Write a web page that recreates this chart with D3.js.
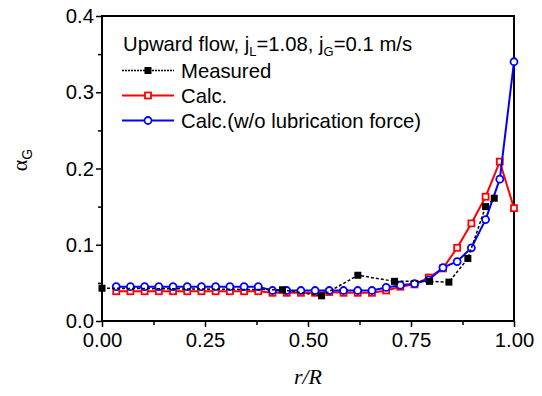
<!DOCTYPE html>
<html>
<head>
<meta charset="utf-8">
<script src="https://cdn.jsdelivr.net/npm/d3@7"></script>
<style>
  body { margin: 0; background: #fff; }
  svg { display: block; font-family: "Liberation Sans", Arial, sans-serif; }
</style>
</head>
<body>
<svg id="chart" width="542" height="396"></svg>
<script>
// Data
const gridR = d3.range(29).map(i => (i + 1) / 29);

const calcAlpha = [
  0.039, 0.039, 0.039, 0.039, 0.039, 0.039, 0.039, 0.039, 0.039, 0.039,
  0.039, 0.037, 0.037, 0.037, 0.037, 0.038, 0.037, 0.037, 0.037, 0.040,
  0.045, 0.048, 0.057, 0.069, 0.096, 0.128, 0.163, 0.209, 0.148
];

const noLubAlpha = [
  0.045, 0.045, 0.045, 0.045, 0.045, 0.045, 0.045, 0.045, 0.045, 0.045,
  0.045, 0.040, 0.040, 0.040, 0.040, 0.040, 0.040, 0.040, 0.040, 0.044,
  0.047, 0.049, 0.054, 0.070, 0.078, 0.096, 0.133, 0.186, 0.340
];

const measuredR = [0.0, 0.438, 0.533, 0.621, 0.710, 0.795, 0.842, 0.888, 0.931, 0.952];
const measuredAlpha = [0.043, 0.041, 0.033, 0.060, 0.052, 0.052, 0.051, 0.082, 0.150, 0.161];

const xTicks = [0, 0.25, 0.5, 0.75, 1.0];
const xMinor = [0.125, 0.375, 0.625, 0.875];
const yTicks = [0, 0.1, 0.2, 0.3, 0.4];
const yMinor = [0.05, 0.15, 0.25, 0.35];

const svg = d3.select('#chart');
const margin = { top: 16, right: 28, bottom: 75, left: 102 };
const width = 542 - margin.left - margin.right;
const height = 396 - margin.top - margin.bottom;

const g = svg.append('g').attr('transform', `translate(${margin.left},${margin.top})`);

const x = d3.scaleLinear().domain([0, 1]).range([0, width]);
const y = d3.scaleLinear().domain([0, 0.4]).range([height, 0]);

const FS = 20.3;

// frame
g.append('rect')
  .attr('width', width).attr('height', height)
  .attr('fill', 'none').attr('stroke', '#000').attr('stroke-width', 2);

// axes
const styleAxis = sel => {
  sel.select('.domain').remove();
  sel.selectAll('line').attr('stroke', '#000').attr('stroke-width', 1.5);
  sel.selectAll('text').attr('fill', '#000').style('font-size', FS + 'px');
};

g.append('g').attr('transform', `translate(0,${height})`)
  .call(d3.axisBottom(x).tickValues(xTicks).tickFormat(d3.format('.2f')).tickSize(6).tickPadding(6))
  .call(styleAxis);
g.append('g').attr('transform', `translate(0,${height})`)
  .call(d3.axisBottom(x).tickValues(xMinor).tickFormat('').tickSize(4))
  .call(styleAxis);

g.append('g')
  .call(d3.axisLeft(y).tickValues(yTicks).tickFormat(d3.format('.1f')).tickSize(6).tickPadding(2))
  .call(styleAxis);
g.append('g')
  .call(d3.axisLeft(y).tickValues(yMinor).tickFormat('').tickSize(4))
  .call(styleAxis);

// axis titles
svg.append('text')
  .attr('x', margin.left + x(0.5)).attr('y', 384)
  .attr('text-anchor', 'middle')
  .style('font-family', '"Liberation Serif", "Times New Roman", serif')
  .style('font-style', 'italic').style('font-size', '22px')
  .text('r/R');

const yl = svg.append('text')
  .attr('transform', 'translate(27,160) rotate(-90)')
  .attr('text-anchor', 'middle')
  .style('font-size', '22px');
yl.append('tspan').style('font-family', '"Liberation Serif", serif').text('α');
yl.append('tspan').attr('dy', 5).style('font-size', '14px').text('G');

// series
const calcData = gridR.map((r, i) => ({ r, a: calcAlpha[i] }));
const noLubData = gridR.map((r, i) => ({ r, a: noLubAlpha[i] }));
const measData = measuredR.map((r, i) => ({ r, a: measuredAlpha[i] }));

const line = d3.line().x(d => x(d.r)).y(d => y(d.a));

const plot = g.append('g');

plot.append('path').datum(calcData)
  .attr('d', line).attr('fill', 'none').attr('stroke', '#f00').attr('stroke-width', 2);
plot.selectAll('.calc').data(calcData).enter().append('rect')
  .attr('x', d => x(d.r) - 3).attr('y', d => y(d.a) - 3)
  .attr('width', 6).attr('height', 6)
  .attr('fill', '#fff').attr('stroke', '#f00').attr('stroke-width', 1.8);

plot.append('path').datum(noLubData)
  .attr('d', line).attr('fill', 'none').attr('stroke', '#00f').attr('stroke-width', 2);
plot.selectAll('.nolub').data(noLubData).enter().append('circle')
  .attr('cx', d => x(d.r)).attr('cy', d => y(d.a)).attr('r', 3.5)
  .attr('fill', '#fff').attr('stroke', '#00f').attr('stroke-width', 1.8);

plot.append('path').datum(measData)
  .attr('d', line).attr('fill', 'none').attr('stroke', '#000')
  .attr('stroke-width', 1.5).attr('stroke-dasharray', '3,2');
plot.selectAll('.meas').data(measData).enter().append('rect')
  .attr('x', d => x(d.r) - 3.5).attr('y', d => y(d.a) - 3.5)
  .attr('width', 7).attr('height', 7)
  .attr('fill', '#000');

// legend
const legend = svg.append('g');
const head = legend.append('text').attr('x', 123).attr('y', 51).style('font-size', FS + 'px');
head.append('tspan').text('Upward flow, j');
head.append('tspan').attr('dy', 5).style('font-size', '13px').text('L');
head.append('tspan').attr('dy', -5).text('=1.08, j');
head.append('tspan').attr('dy', 5).style('font-size', '13px').text('G');
head.append('tspan').attr('dy', -5).text('=0.1 m/s');

const items = [
  { label: 'Measured', color: '#000', dash: '2,1', marker: 'filled', y: 70.5 },
  { label: 'Calc.', color: '#f00', dash: null, marker: 'square', y: 95.5 },
  { label: 'Calc.(w/o lubrication force)', color: '#00f', dash: null, marker: 'circle', y: 120.5 }
];

items.forEach(it => {
  legend.append('line')
    .attr('x1', 122).attr('x2', 174).attr('y1', it.y).attr('y2', it.y)
    .attr('stroke', it.color).attr('stroke-width', it.dash ? 1.5 : 2)
    .attr('stroke-dasharray', it.dash);
  if (it.marker === 'filled') {
    legend.append('rect').attr('x', 144.5).attr('y', it.y - 3.5).attr('width', 7).attr('height', 7).attr('fill', '#000');
  } else if (it.marker === 'square') {
    legend.append('rect').attr('x', 145).attr('y', it.y - 3).attr('width', 6).attr('height', 6)
      .attr('fill', '#fff').attr('stroke', it.color).attr('stroke-width', 1.8);
  } else {
    legend.append('circle').attr('cx', 148).attr('cy', it.y).attr('r', 3.5)
      .attr('fill', '#fff').attr('stroke', it.color).attr('stroke-width', 1.8);
  }
  legend.append('text').attr('x', 181).attr('y', it.y + 7)
    .style('font-size', FS + 'px').text(it.label);
});
</script>
</body>
</html>
